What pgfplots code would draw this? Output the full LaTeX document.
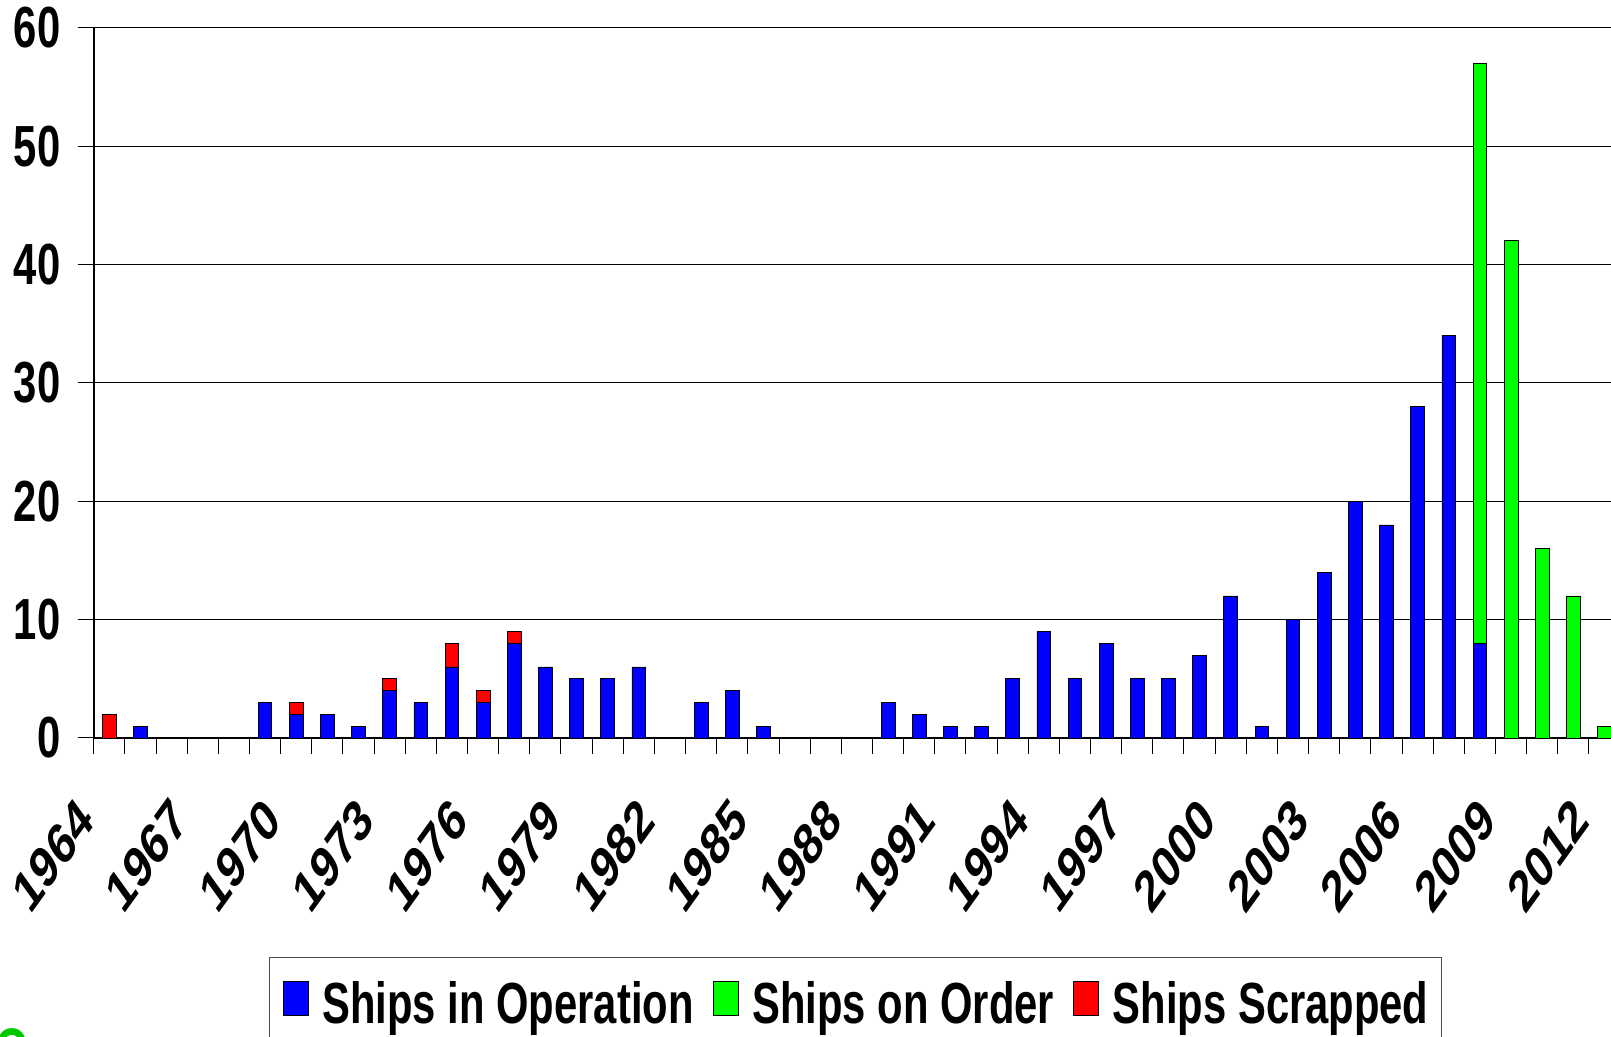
\documentclass[border=0pt]{standalone}
\usepackage{pgfplots}
\pgfplotsset{compat=1.18}
\usepackage{pgfplotstable}
\usepackage{graphicx}
\usepackage{fontspec}
\setmainfont{Liberation Sans}[FakeStretch=0.72]
\newfontfamily\plainfont{Liberation Sans}
\definecolor{cblue}{RGB}{0,0,255}
\definecolor{cgreen}{RGB}{0,255,0}
\definecolor{cred}{RGB}{255,0,0}
\definecolor{logogreen}{RGB}{0,200,0}
\newcommand\ticfont{\bfseries\fontsize{29}{34}\selectfont}
\newcommand\xlabfont{\plainfont\bfseries\fontsize{29}{34}\selectfont}

\pgfplotstableread{
x    blue green red
0.5  0  0  2
1.5  1  0  0
2.5  0  0  0
3.5  0  0  0
4.5  0  0  0
5.5  3  0  0
6.5  2  0  1
7.5  2  0  0
8.5  1  0  0
9.5  4  0  1
10.5 3  0  0
11.5 6  0  2
12.5 3  0  1
13.5 8  0  1
14.5 6  0  0
15.5 5  0  0
16.5 5  0  0
17.5 6  0  0
18.5 0  0  0
19.5 3  0  0
20.5 4  0  0
21.5 1  0  0
22.5 0  0  0
23.5 0  0  0
24.5 0  0  0
25.5 3  0  0
26.5 2  0  0
27.5 1  0  0
28.5 1  0  0
29.5 5  0  0
30.5 9  0  0
31.5 5  0  0
32.5 8  0  0
33.5 5  0  0
34.5 5  0  0
35.5 7  0  0
36.5 12 0  0
37.5 1  0  0
38.5 10 0  0
39.5 14 0  0
40.5 20 0  0
41.5 18 0  0
42.5 28 0  0
43.5 34 0  0
44.5 8  49 0
45.5 0  42 0
46.5 0  16 0
47.5 0  12 0
48.5 0  1  0
}\shipdata

\begin{document}
\begin{tikzpicture}
\begin{axis}[
  at={(46.85pt,149.5pt)}, anchor=south west,
  scale only axis, width=763.2pt, height=355.15pt,
  xmin=0, xmax=49, ymin=0, ymax=60,
  axis x line=bottom, axis y line=left,
  axis line style={-, line width=0.8pt, black},
  ybar stacked, bar width=6.85pt,
  ytick={0,10,...,60}, ymajorgrids, grid style={black, line width=0.5pt},
  xtick={0,3,...,48}, minor x tick num=2,
  tick align=outside, major tick length=8pt, minor tick length=8pt,
  tick style={black, line width=0.5pt},
  yticklabel={\pgfmathtruncatemacro\v{\tick}\v},
  yticklabel style={font=\ticfont, inner sep=0pt, xshift=-8.5pt},
  xticklabel={\pgfmathtruncatemacro\yr{1964+\tick}\scalebox{0.72}[1]{\rotatebox{45}{\xlabfont\yr}}},
  xticklabel style={anchor=north east, inner sep=0pt, yshift=-20.5pt, xshift=1.5pt},
  legend columns=3,
  legend style={at={(0.11485,-0.3083)}, anchor=north west, draw=black!70,
    line width=0.6pt, fill=white, inner xsep=6.5pt, inner ysep=11.5pt, font=\ticfont,
    /tikz/every odd column/.append style={column sep=7pt},
    /tikz/every even column/.append style={column sep=9.5pt},
    nodes={inner sep=0pt}},
  myleg/.style={legend image code/.code={\draw[##1,draw=black,line width=0.4pt] (0pt,-5.5pt) rectangle (12.5pt,11.5pt);}},
]
\addplot[fill=cblue, draw=black, line width=0.4pt, myleg] table[x=x,y=blue] {\shipdata};
\addplot[fill=cgreen, draw=black, line width=0.4pt, myleg] table[x=x,y=green] {\shipdata};
\addplot[fill=cred, draw=black, line width=0.4pt, myleg] table[x=x,y=red] {\shipdata};
\legend{Ships in Operation, Ships on Order, Ships Scrapped}
\end{axis}
\node[text=logogreen, font=\bfseries\fontsize{30}{30}\selectfont, anchor=north, inner sep=0pt] at (6pt,4.5pt) {O};
\pgfresetboundingbox
\useasboundingbox (0,0) rectangle (805.5pt,518.5pt);
\end{tikzpicture}
\end{document}
